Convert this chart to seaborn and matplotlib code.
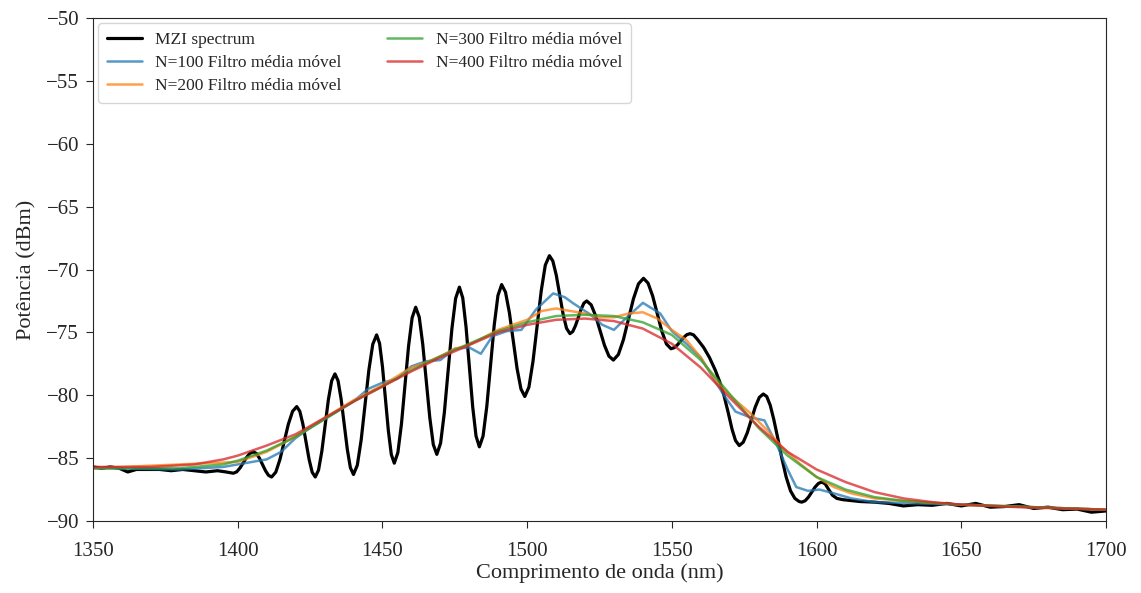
import pandas as pd
import matplotlib
matplotlib.use("Agg")
import matplotlib.pyplot as plt
import seaborn as sns

# MZI spectrum
mzi_nm = [1350, 1353, 1356, 1359, 1362, 1365, 1369, 1373, 1377, 1381, 1385, 1389, 1393, 1396,
          1398.5, 1399.65, 1400.8, 1401.95, 1403.1, 1404.25,
          1405.4, 1406.45, 1407.5, 1408.55, 1409.6, 1410.65,
          1411.7, 1413.15, 1414.6, 1416.05, 1417.5, 1418.95,
          1420.4, 1421.47, 1422.53, 1423.6, 1424.67, 1425.73,
          1426.8, 1427.93, 1429.07, 1430.2, 1431.33, 1432.47,
          1433.6, 1434.67, 1435.73, 1436.8, 1437.87, 1438.93,
          1440.0, 1441.33, 1442.67, 1444.0, 1445.33, 1446.67,
          1448.0, 1449.02, 1450.03, 1451.05, 1452.07, 1453.08,
          1454.1, 1455.33, 1456.57, 1457.8, 1459.03, 1460.27,
          1461.5, 1462.72, 1463.93, 1465.15, 1466.37, 1467.58,
          1468.8, 1470.1, 1471.4, 1472.7, 1474.0, 1475.3,
          1476.6, 1477.75, 1478.9, 1480.05, 1481.2, 1482.35,
          1483.5, 1484.78, 1486.07, 1487.35, 1488.63, 1489.92,
          1491.2, 1492.53, 1493.87, 1495.2, 1496.53, 1497.87,
          1499.2, 1500.62, 1502.03, 1503.45, 1504.87, 1506.28,
          1507.7, 1508.88, 1510.07, 1511.25, 1512.43, 1513.62,
          1514.8, 1515.77, 1516.73, 1517.7, 1518.67, 1519.63,
          1520.6, 1522.13, 1523.67, 1525.2, 1526.73, 1528.27,
          1529.8, 1531.53, 1533.27, 1535.0, 1536.73, 1538.47,
          1540.2, 1541.78, 1543.37, 1544.95, 1546.53, 1548.12,
          1549.7, 1550.8, 1551.9, 1553.0, 1554.1, 1555.2,
          1556.3, 1557.5, 1559.0, 1561.0, 1563.0, 1565.0, 1566.5, 1568.0, 1569.5, 1570.8, 1572.0,
          1573.3, 1574.68, 1576.07, 1577.45, 1578.83, 1580.22,
          1581.6, 1582.8, 1584.0, 1585.2, 1586.5, 1588.0, 1589.5, 1591.0, 1592.5, 1594.0,
          1594.9, 1596.05, 1597.2, 1598.35, 1599.5, 1600.65,
          1601.8, 1603.0, 1604.2, 1605.5, 1607.0, 1609.0,
          1615, 1620, 1625, 1630, 1635, 1640, 1645, 1650, 1655, 1660, 1665, 1670,
          1675, 1680, 1685, 1690, 1695, 1700]
mzi_dbm = [-85.7, -85.8, -85.7, -85.8, -86.1, -85.9, -85.9, -85.9, -86.0, -85.9, -86.0, -86.1, -86.0, -86.1,
           -86.2, -86.09, -85.78, -85.35, -84.93, -84.61,
           -84.5, -84.63, -85.0, -85.5, -86.0, -86.37,
           -86.5, -86.12, -85.1, -83.7, -82.3, -81.28,
           -80.9, -81.28, -82.3, -83.7, -85.1, -86.12,
           -86.5, -85.95, -84.45, -82.4, -80.35, -78.85,
           -78.3, -78.84, -80.3, -82.3, -84.3, -85.76,
           -86.3, -85.56, -83.53, -80.75, -77.98, -75.94,
           -75.2, -75.88, -77.75, -80.3, -82.85, -84.72,
           -85.4, -84.57, -82.3, -79.2, -76.1, -73.83,
           -73.0, -73.78, -75.93, -78.85, -81.78, -83.92,
           -84.7, -83.81, -81.38, -78.05, -74.73, -72.29,
           -71.4, -72.25, -74.58, -77.75, -80.93, -83.25,
           -84.1, -83.24, -80.88, -77.65, -74.43, -72.06,
           -71.2, -71.8, -73.43, -75.65, -77.88, -79.5,
           -80.1, -79.35, -77.3, -74.5, -71.7, -69.65,
           -68.9, -69.32, -70.45, -72.0, -73.55, -74.68,
           -75.1, -74.93, -74.45, -73.8, -73.15, -72.67,
           -72.5, -72.81, -73.68, -74.85, -76.03, -76.89,
           -77.2, -76.76, -75.58, -73.95, -72.33, -71.14,
           -70.7, -71.08, -72.1, -73.5, -74.9, -75.92,
           -76.3, -76.22, -76.0, -75.7, -75.4, -75.18,
           -75.1, -75.2, -75.6, -76.2, -77.0, -78.0, -78.9, -80.0, -81.4, -82.7, -83.6,
           -84.0, -83.73, -82.98, -81.95, -80.93, -80.17,
           -79.9, -80.1, -80.8, -81.9, -83.3, -85.0, -86.5, -87.6, -88.2, -88.45,
           -88.5, -88.39, -88.1, -87.7, -87.3, -87.01,
           -86.9, -87.05, -87.5, -87.95, -88.2, -88.3,
           -88.45, -88.5, -88.6, -88.8, -88.7, -88.75, -88.6, -88.8, -88.6, -88.9, -88.85, -88.7,
           -89.0, -88.9, -89.1, -89.05, -89.3, -89.2]

# moving average N=100
n100_nm = [1350, 1380, 1395, 1400, 1405, 1410, 1415, 1420, 1425, 1430, 1435, 1440, 1445, 1450, 1455,
           1460, 1465, 1470, 1475, 1480, 1484, 1488, 1493, 1498, 1503, 1509, 1513, 1516, 1522, 1526,
           1530, 1534, 1540, 1546, 1550, 1555, 1560, 1565, 1568, 1572, 1577, 1582, 1586, 1590, 1593,
           1597, 1601, 1606, 1612, 1620, 1650, 1700]
n100_dbm = [-85.8, -85.9, -85.7, -85.5, -85.3, -85.1, -84.5, -83.4, -82.6, -81.9, -81.2, -80.5, -79.5, -79.0, -78.7,
            -77.7, -77.3, -77.2, -76.3, -76.2, -76.7, -75.3, -74.9, -74.8, -73.2, -71.9, -72.2, -72.7, -73.6, -74.4,
            -74.8, -73.9, -72.65, -73.5, -74.9, -75.9, -77.0, -78.9, -80.0, -81.3, -81.75, -82.0, -83.8, -85.9, -87.3,
            -87.6, -87.5, -87.8, -88.2, -88.5, -88.7, -89.1]

# moving average N=200
n200_nm = [1350, 1400, 1410, 1420, 1430, 1440, 1450, 1460, 1465, 1470, 1475, 1480, 1485, 1490, 1495,
           1500, 1505, 1510, 1515, 1520, 1525, 1530, 1535, 1540, 1545, 1550, 1555, 1560, 1565, 1570,
           1577, 1583, 1588, 1594, 1600, 1606, 1612, 1620, 1630, 1650, 1700]
n200_dbm = [-85.8, -85.3, -84.5, -83.3, -81.8, -80.4, -79.2, -77.8, -77.4, -76.9, -76.3, -76.0, -75.4, -74.8, -74.4,
            -74.0, -73.3, -73.1, -73.3, -73.5, -73.8, -73.8, -73.5, -73.4, -73.9, -74.8, -75.6, -77.0, -78.8, -80.0,
            -81.4, -82.8, -84.1, -85.4, -86.5, -87.3, -87.8, -88.2, -88.4, -88.7, -89.1]

# moving average N=300
n300_nm = [1350, 1380, 1395, 1400, 1410, 1420, 1430, 1440, 1450, 1460, 1470, 1480, 1490, 1500, 1510,
           1520, 1530, 1540, 1550, 1560, 1570, 1580, 1590, 1600, 1610, 1620, 1630, 1650, 1700]
n300_dbm = [-85.8, -85.8, -85.5, -85.2, -84.4, -83.3, -81.9, -80.5, -79.3, -78.0, -76.9, -75.9, -74.9, -74.2, -73.7,
            -73.6, -73.7, -74.2, -75.2, -77.2, -79.9, -82.6, -84.8, -86.5, -87.5, -88.1, -88.4, -88.7, -89.1]

# moving average N=400
n400_nm = [1350, 1370, 1385, 1395, 1400, 1410, 1420, 1430, 1440, 1450, 1460, 1470, 1480, 1490, 1500,
           1510, 1520, 1530, 1540, 1550, 1560, 1570, 1580, 1590, 1600, 1610, 1620, 1630, 1640, 1650,
           1670, 1700]
n400_dbm = [-85.7, -85.7, -85.5, -85.1, -84.8, -84.0, -83.1, -81.8, -80.5, -79.3, -78.1, -77.0, -76.0, -75.0, -74.4,
            -74.0, -73.9, -74.1, -74.7, -75.9, -77.8, -80.2, -82.5, -84.5, -85.9, -86.9, -87.7, -88.2, -88.5, -88.7,
            -88.9, -89.1]

labels = ["MZI spectrum", "N=100 Filtro média móvel", "N=200 Filtro média móvel",
          "N=300 Filtro média móvel", "N=400 Filtro média móvel"]

sns.set_style("ticks")
plt.rcParams["font.family"] = ["Liberation Serif", "DejaVu Serif"]

fig, ax = plt.subplots(figsize=(11.41, 5.93), dpi=100)
fig.subplots_adjust(left=0.0815, right=0.9693, top=0.9696, bottom=0.1214)

sns.lineplot(x=mzi_nm, y=mzi_dbm, ax=ax, color="black", lw=2.3, label=labels[0])
series = [(n100_nm, n100_dbm), (n200_nm, n200_dbm), (n300_nm, n300_dbm), (n400_nm, n400_dbm)]
palette = sns.color_palette("tab10")
for i, (xs, ys) in enumerate(series):
    sns.lineplot(x=xs, y=ys, ax=ax, color=palette[i], lw=1.8, alpha=0.75, label=labels[i + 1])

ax.set_xlim(1350, 1700)
ax.set_ylim(-90, -50)
ax.set_xticks(range(1350, 1701, 50))
ax.set_yticks(range(-90, -49, 5))
ax.tick_params(labelsize=15, length=5)
ax.tick_params(axis="x", pad=10)
ax.tick_params(axis="y", pad=5)
ax.set_xlabel("Comprimento de onda (nm)", fontsize=16, labelpad=2)
ax.set_ylabel("Potência (dBm)", fontsize=16, labelpad=7)
ax.legend(loc="upper left", ncol=2, fontsize=12.5, labelspacing=0.4, columnspacing=2.6,
          borderaxespad=0.3, borderpad=0.5, frameon=True)

fig.savefig("out.png", dpi=100)
